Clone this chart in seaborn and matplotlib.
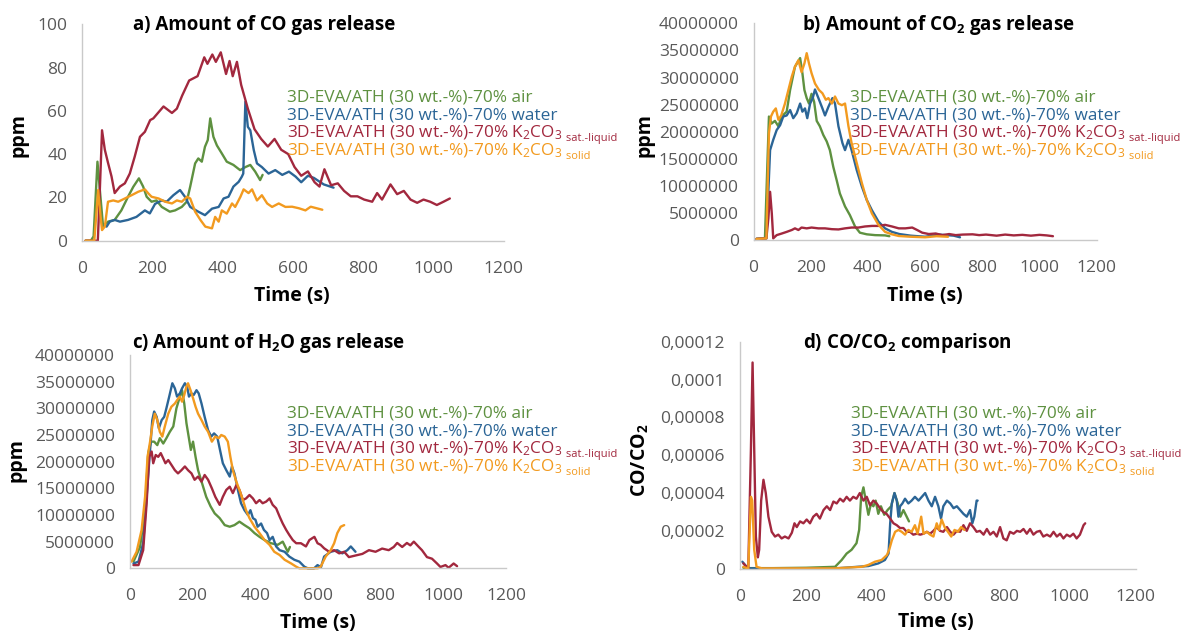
import matplotlib
matplotlib.use("Agg")
import matplotlib.pyplot as plt
import numpy as np
import pandas as pd
import seaborn as sns

# ---------------------------------------------------------------- data
series_names = ["air", "water", "liquid", "solid"]
legend_main = [
    "3D-EVA/ATH (30 wt.-%)-70% air",
    "3D-EVA/ATH (30 wt.-%)-70% water",
    "3D-EVA/ATH (30 wt.-%)-70% K$_2$CO$_3$",
    "3D-EVA/ATH (30 wt.-%)-70% K$_2$CO$_3$",
]
legend_sub = ["", "", " sat.-liquid", " solid"]
series_colors = ["#5E9140", "#2B6596", "#A2283E", "#F29A1F"]

x_ticks = [0, 200, 400, 600, 800, 1000, 1200]
x_tick_labels = ["0", "200", "400", "600", "800", "1000", "1200"]

# a) CO (ppm)
co_air_t = [10, 25, 33, 44, 50, 60, 74, 93, 112, 131, 146, 162, 174, 184, 198, 212, 227, 250, 265, 284,
            298, 308, 322, 331, 341, 350, 358, 365, 374, 384, 398, 412, 431, 450, 465, 479, 493, 507, 514]
co_air = [0, 0, 2, 36.5, 25, 6.5, 8.8, 9.6, 14, 20.3, 24.9, 28.8, 25, 20.3, 18, 18.6, 15.6, 13.4, 14, 15.6,
          18, 25, 35.7, 38, 36.5, 43.4, 46.5, 56.5, 48, 44, 40.3, 36.5, 35, 32.6, 34, 35, 31.9, 28, 30.4]
co_water_t = [65, 70, 79, 93, 108, 131, 155, 179, 193, 208, 227, 241, 260, 279, 293, 308, 331, 350, 370, 389,
              403, 417, 431, 446, 455, 459, 465, 472, 479, 489, 498, 512, 531, 550, 570, 589, 608, 624, 643, 660,
              688, 716]
co_water = [7, 6.5, 8.8, 9.6, 8.8, 9.6, 11, 14, 12.6, 17, 18.6, 18, 21, 23.4, 20.3, 15.6, 13.4, 11.8, 14.8, 15.6,
            19.5, 20.3, 25, 27.2, 29.6, 31, 64.2, 52.6, 51, 41.8, 35.7, 34, 31, 32.6, 30.4, 31.9, 29.6, 27, 30, 29,
            26, 24.5]
co_liquid_t = [10, 30, 45, 50, 57, 65, 74, 84, 93, 108, 122, 136, 150, 165, 179, 194, 203, 232, 256, 270,
               285, 305, 329, 348, 357, 371, 381, 395, 410, 420, 429, 441, 453, 472, 491, 510, 529, 548, 567, 587,
               605, 624, 643, 662, 676, 690, 709, 728, 746, 765, 784, 803, 826, 840, 854, 878, 897, 916, 935, 954,
               972, 991, 1010, 1029, 1047]
co_liquid = [0, 0, 0, 20, 51, 42, 36, 29.7, 22, 25, 26.5, 31, 38.8, 48, 50.3, 55.7, 56.5, 62, 59, 61,
             67, 74, 76, 84.7, 81.7, 86, 82.6, 87, 77, 83, 76, 82.6, 72, 61, 51.5, 47, 43.5, 47, 42, 40,
             34, 30, 32, 27, 25, 33, 25.6, 26.5, 23, 20.5, 20.5, 19, 18, 22, 19, 26, 21.5, 23, 19, 17.5,
             19, 18, 16.5, 18, 19.5]
co_solid_t = [10, 35, 46, 53, 57, 65, 74, 89, 103, 122, 141, 160, 179, 189, 198, 218, 237, 256, 270, 284,
              299, 308, 322, 337, 351, 370, 379, 389, 398, 412, 427, 436, 451, 460, 474, 484, 498, 512, 527, 541,
              560, 579, 598, 617, 636, 651, 684]
co_solid = [0, 0, 23.4, 11, 4.9, 6.5, 18, 18.6, 18, 19.5, 21, 22.6, 23.7, 21.8, 20.3, 19.5, 18, 17.2, 18.6, 18,
            20.3, 19.5, 13.4, 9.6, 6.5, 5.7, 11, 8.8, 14, 12.5, 17.2, 15.6, 20.3, 23.7, 22, 23.7, 18.6, 21, 17.2, 15.6,
            17.2, 15.6, 15.7, 15, 14, 15.7, 14.3]

# b) CO2 (ppm, in millions)
co2_air_t = [10, 40, 54, 63, 75, 87, 98, 116, 128, 145, 163, 171, 178, 186, 194, 203, 212, 221, 232, 244,
             256, 267, 279, 291, 302, 320, 337, 355, 372, 396, 425, 460, 475]
co2_air = [0.2, 0.3, 22.8, 21.5, 22, 21, 22.8, 23.7, 27.7, 32, 33.6, 30.8, 27.7, 26.2, 25.2, 27, 25.5, 22, 21, 19.4,
           18.2, 16.6, 13.5, 11, 8.6, 6.2, 4.6, 2.5, 1.35, 1.05, 0.9, 0.85, 0.7]
co2_water_t = [10, 45, 58, 69, 81, 93, 104, 116, 128, 139, 151, 163, 171, 180, 188, 198, 207, 215, 227, 241,
               250, 262, 276, 285, 297, 311, 320, 332, 343, 361, 379, 396, 414, 437, 460, 484, 510, 550, 600, 650,
               700, 722]
co2_water = [0.2, 0.3, 16.6, 18.5, 20.3, 21.2, 22.8, 23, 24, 22.5, 23.4, 25.2, 23.7, 24.3, 22.5, 25.2, 26.2, 27.8, 26.2, 24.3,
             23, 24.6, 26.2, 25.2, 21, 17.9, 16.6, 18.5, 16.6, 12.9, 9.85, 7.4, 5.5, 3.4, 2.15, 1.5, 1.1, 0.8, 0.6, 1.0,
             0.8, 0.5]
co2_liquid_t = [10, 45, 52, 58, 64, 69, 81, 99, 116, 134, 145, 157, 168, 186, 203, 227, 250, 274, 297, 320,
                343, 367, 390, 414, 437, 460, 484, 508, 531, 555, 572, 590, 613, 637, 660, 684, 707, 731, 766, 789,
                813, 850, 880, 910, 940, 970, 1000, 1025, 1047]
co2_liquid = [0.2, 0.3, 4, 8.9, 4.9, 0.3, 0.9, 1.2, 1.5, 1.85, 2.15, 1.85, 2.3, 2.15, 2.3, 2.15, 2.15, 2.0, 1.95, 2.15,
              2.3, 2.3, 2.5, 2.6, 2.6, 2.8, 2.5, 2.15, 2.15, 2.3, 1.85, 1.35, 1.1, 1.2, 0.9, 1.1, 0.9, 1.0, 1.05, 0.9,
              1.0, 0.8, 1.0, 0.85, 0.95, 0.8, 0.95, 0.85, 0.7]
co2_solid_t = [10, 45, 54, 61, 69, 78, 87, 97, 110, 122, 134, 145, 157, 168, 178, 186, 194, 203, 215, 229,
               241, 253, 262, 274, 285, 297, 309, 320, 332, 343, 361, 379, 396, 414, 437, 460, 484, 508, 550, 600,
               640, 680]
co2_solid = [0.2, 0.3, 19.7, 22.8, 23.7, 24.3, 22.2, 23, 25.2, 27.7, 30.2, 32, 33.2, 31, 32.6, 34.5, 32.6, 30.8, 28.9, 27.7,
             27.1, 25.9, 26.2, 25.2, 26.5, 25.2, 24.9, 25.2, 21, 17.9, 14.2, 10.5, 7.4, 4.9, 2.8, 1.5, 1.05, 0.74, 0.6, 0.5,
             0.7, 0.6]

# c) H2O (ppm, in millions)
h2o_air_t = [12, 33, 49, 59, 68, 78, 88, 96, 107, 117, 128, 139, 149, 160, 167, 174, 181, 188, 195, 202,
             210, 218, 231, 244, 258, 271, 287, 303, 319, 334, 350, 366, 382, 398, 414, 430, 451, 472, 488, 504,
             511]
h2o_air = [1.25, 4, 10.9, 21.6, 23.75, 23.75, 23.1, 24.4, 23.4, 24.4, 25.6, 26.6, 30, 32.2, 33.4, 30.9, 27.2, 24.7, 22.2, 23.75,
           20.9, 18.4, 15.9, 13.4, 11.6, 10.3, 9.4, 8.1, 7.8, 8.1, 8.75, 8.1, 7.5, 6.6, 5.9, 5.3, 4.7, 4.4, 5, 3.1,
           4]
h2o_water_t = [12, 28, 43, 54, 65, 72, 78, 86, 93, 102, 110, 117, 126, 136, 144, 151, 160, 167, 176, 183,
               189, 197, 204, 213, 220, 229, 239, 250, 260, 269, 279, 289, 297, 308, 319, 326, 334, 345, 355, 366,
               377, 385, 393, 401, 408, 419, 428, 438, 446, 456, 467, 478, 494, 509, 525, 541, 557, 568, 588, 599,
               610, 620, 641, 662, 678, 694, 705, 720]
h2o_water = [0.9, 1.25, 4.7, 13.4, 22.2, 27.8, 29.4, 28.4, 26.25, 27.8, 28.4, 30, 32.2, 34.7, 33.75, 32.2, 32.8, 33.75, 34.7, 34.1,
             32.2, 32.8, 32.5, 33.4, 32.8, 30.9, 28.4, 25.9, 24.7, 25.3, 24.7, 21.9, 19.7, 18.4, 17.2, 19.1, 17.8, 14.7, 12.2, 10.9,
             10, 10.9, 9.4, 9.1, 7.8, 8.4, 7.2, 6.6, 5.3, 5.9, 4.1, 3.4, 3.1, 2.2, 1.6, 1.25, 0.3, 0, 0, 0.6,
             0.2, 2.2, 3.1, 3.4, 2.8, 3.4, 4.1, 3.1]
h2o_liquid_t = [12, 28, 43, 54, 62, 70, 75, 83, 91, 99, 107, 114, 123, 133, 144, 154, 165, 176, 186, 197,
                207, 218, 229, 239, 250, 262, 273, 287, 297, 308, 319, 329, 340, 350, 361, 371, 382, 393, 403, 414,
                424, 435, 446, 456, 467, 478, 488, 499, 509, 520, 531, 546, 562, 573, 589, 599, 609, 620, 636, 652,
                668, 684, 699, 720, 742, 763, 784, 805, 826, 842, 853, 869, 884, 895, 906, 922, 932, 948, 964, 980,
                991, 1007, 1017, 1033, 1044]
h2o_liquid = [0.6, 0.6, 3.4, 12.2, 20.9, 21.9, 19.7, 21.25, 20.9, 21.6, 20.6, 19.7, 20.3, 19.4, 18.4, 17.8, 18.4, 19.1, 18.4, 17.8,
              16.6, 17.2, 16.25, 17.5, 16.6, 15, 13.4, 11.9, 13.4, 14.7, 15.3, 14.1, 15.6, 14.7, 12.8, 13.1, 13.75, 13.1, 12.2, 12.8,
              12.2, 12.5, 13.1, 11.9, 11.25, 9.7, 8.4, 7.2, 6.25, 5.3, 4.7, 4.7, 4.1, 5.3, 5.9, 4.7, 4.4, 3.75, 3.1, 3.4,
              2.8, 3.1, 2.1, 2.4, 2.7, 3.4, 3.1, 3.7, 3.4, 4.0, 4.75, 4.0, 4.75, 4.3, 5, 4.0, 3.4, 2.1, 1.8, 0.9,
              0.25, 0.6, 0.1, 0.9, 0.4]
h2o_solid_t = [6, 22, 38, 49, 57, 65, 72, 80, 88, 96, 104, 112, 123, 133, 144, 152, 160, 167, 174, 181,
               186, 194, 202, 210, 218, 229, 239, 250, 262, 273, 284, 292, 303, 313, 321, 329, 340, 350, 361, 371,
               382, 398, 414, 430, 446, 461, 478, 494, 515, 531, 541, 600, 609, 625, 641, 652, 662, 673, 684]
h2o_solid = [1.25, 3.1, 7.2, 13.4, 20.9, 23.75, 26.6, 29, 27.8, 25.6, 24.7, 26.6, 29, 30.3, 30.9, 31.6, 32.2, 31.25, 32.5, 34.1,
             34.7, 33.4, 31.9, 30.3, 29, 27.8, 26.6, 25.6, 23.75, 24.7, 24.4, 25, 24.7, 23.75, 20.9, 18.4, 16.25, 14.7, 12.8, 10.9,
             9.4, 7.8, 6.6, 5.3, 4.4, 3.1, 2.5, 1.6, 0.9, 0.3, 0, 0, 0.3, 2.2, 3.4, 4.7, 6.6, 7.8, 8.1]

# d) CO/CO2 ratio (in units of 1e-5)
ratio_air_t = [11, 25, 100, 200, 289, 309, 324, 339, 354, 362, 368, 375, 382, 390, 398, 405, 412, 420, 428, 438,
               448, 459, 469, 479, 487, 496, 506, 513]
ratio_air = [0.05, 0.03, 0.03, 0.05, 0.1, 0.46, 0.8, 1.0, 1.35, 2.05, 3.8, 4.3, 3.6, 2.85, 3.45, 3.3, 3.6, 2.9, 3.3, 2.85,
             3.1, 3.3, 4.0, 3.45, 2.75, 3.1, 2.75, 2.5]
ratio_water_t = [8, 21, 31, 100, 200, 300, 390, 420, 440, 451, 456, 461, 469, 476, 481, 486, 493, 501, 511, 521,
                 531, 542, 552, 562, 572, 582, 592, 602, 610, 617, 628, 638, 648, 658, 668, 678, 688, 698, 705, 711,
                 718, 721]
ratio_water = [0.37, 0.1, 0.02, 0.02, 0.02, 0.03, 0.14, 0.28, 0.46, 0.8, 2.4, 3.45, 4.0, 3.6, 2.75, 3.3, 3.45, 3.7, 3.45, 3.6,
               3.8, 3.6, 3.8, 4.0, 3.6, 3.3, 3.8, 3.3, 2.65, 3.3, 3.6, 3.45, 3.2, 3.3, 3.1, 2.9, 2.75, 3.1, 2.4, 2.75,
               3.6, 3.6]
ratio_liquid_t = [11, 26, 34, 39, 44, 49, 55, 59, 65, 72, 79, 87, 97, 107, 117, 127, 137, 148, 158, 166,
                  173, 183, 193, 203, 213, 223, 233, 243, 254, 264, 274, 284, 294, 304, 314, 324, 334, 344, 354, 364,
                  375, 385, 395, 405, 415, 425, 435, 445, 456, 466, 476, 486, 496, 506, 516, 526, 537, 547, 557, 567,
                  577, 587, 597, 607, 617, 628, 638, 648, 658, 668, 678, 688, 698, 708, 718, 728, 739, 749, 759, 769,
                  779, 789, 799, 809, 819, 830, 840, 850, 860, 870, 880, 890, 900, 910, 920, 931, 941, 951, 961, 971,
                  981, 991, 1001, 1011, 1021, 1031, 1042, 1047]
ratio_liquid = [0.28, 0, 6.3, 10.9, 6.3, 1.7, 0.6, 1.0, 3.6, 4.7, 4.0, 2.75, 1.95, 1.7, 1.8, 1.6, 1.7, 1.6, 1.9, 2.4,
                2.2, 2.5, 2.4, 2.6, 2.4, 2.75, 2.9, 2.65, 3.1, 3.3, 3.1, 3.55, 3.45, 3.7, 3.55, 3.8, 3.6, 3.8, 3.7, 4.0,
                3.6, 3.8, 3.35, 3.6, 3.45, 3.2, 3.0, 2.9, 2.65, 2.4, 2.3, 2.15, 2.15, 1.95, 1.95, 1.8, 1.85, 1.8, 1.85, 1.95,
                1.85, 2.0, 2.2, 2.0, 1.95, 2.2, 1.95, 1.8, 2.0, 1.95, 2.3, 2.0, 2.4, 2.2, 1.95, 2.0, 1.8, 2.1, 1.8, 1.95,
                1.7, 2.2, 1.6, 1.5, 1.95, 1.85, 2.0, 1.95, 2.1, 1.85, 2.1, 1.8, 1.95, 2.0, 1.7, 1.8, 1.7, 1.95, 1.7, 1.85,
                1.6, 1.8, 1.7, 1.85, 1.6, 1.8, 2.3, 2.4]
ratio_solid_t = [11, 26, 34, 38, 44, 51, 67, 150, 289, 370, 390, 410, 430, 446, 453, 461, 471, 481, 491, 501,
                 511, 521, 531, 539, 550, 557, 567, 577, 587, 597, 604, 612, 621, 631, 641, 651, 661, 671, 681]
ratio_solid = [0.1, 0, 3.8, 3.6, 1.0, 0.1, 0.02, 0.02, 0.02, 0.1, 0.2, 0.37, 0.46, 0.72, 1.0, 1.5, 1.95, 2.05, 1.95, 1.8,
               2.05, 1.95, 2.3, 1.85, 2.75, 1.85, 1.95, 1.8, 1.7, 2.4, 2.05, 2.6, 2.2, 1.95, 1.7, 2.05, 1.95, 2.2, 2.05]

# ---------------------------------------------------------------- style
sns.set_theme(style="white")
plt.rcParams["font.family"] = ["Open Sans", "DejaVu Sans"]
plt.rcParams["mathtext.fontset"] = "custom"
plt.rcParams["mathtext.rm"] = "Open Sans"
plt.rcParams["mathtext.it"] = "Open Sans:italic"
plt.rcParams["mathtext.bf"] = "Open Sans:bold"

W, H = 1186, 634
fig = plt.figure(figsize=(W / 100, H / 100), dpi=100)
fig.patch.set_facecolor("white")

AXIS_GREY = "#C9C9C9"
LABEL_GREY = "#595959"


def add_axes_px(left, top, right, bottom):
    return fig.add_axes([left / W, 1 - bottom / H, (right - left) / W, (bottom - top) / H])


def frame(df, scale):
    parts = []
    for name, (t, v) in zip(series_names, df):
        parts.append(pd.DataFrame({"time": t, "value": np.asarray(v, float) * scale, "series": name}))
    return pd.concat(parts, ignore_index=True)


def draw_panel(ax, data, ymax, yticks, yticklabels):
    palette = dict(zip(series_names, series_colors))
    sns.lineplot(data=data, x="time", y="value", hue="series", hue_order=series_names,
                 palette=palette, estimator=None, sort=False, linewidth=1.7,
                 legend=False, ax=ax)
    for ln in ax.get_lines():
        ln.set_clip_on(False)
        ln.set_solid_joinstyle("round")
    ax.set_xlim(0, 1200)
    ax.set_ylim(0, ymax)
    ax.set_xticks(x_ticks)
    ax.set_xticklabels(x_tick_labels)
    ax.set_yticks(yticks)
    ax.set_yticklabels(yticklabels)
    ax.set_xlabel("")
    ax.set_ylabel("")
    for s in ["top", "right"]:
        ax.spines[s].set_visible(False)
    for s in ["left", "bottom"]:
        ax.spines[s].set_color(AXIS_GREY)
        ax.spines[s].set_linewidth(1.0)
    ax.tick_params(axis="both", direction="inout", length=9, width=1.0, color=AXIS_GREY,
                   labelsize=12.5, labelcolor=LABEL_GREY)
    ax.tick_params(axis="x", pad=10)
    ax.tick_params(axis="y", pad=6)
    ax.set_facecolor("none")


def ftext(x, y, s, **kw):
    return fig.text(x / W, 1 - y / H, s, **kw)


def legend_block(x, y0, dy):
    fig.canvas.draw()
    renderer = fig.canvas.get_renderer()
    for i, (main, sub, col) in enumerate(zip(legend_main, legend_sub, series_colors)):
        y = y0 + i * dy
        t = ftext(x, y, main, color=col, fontsize=12.4, va="baseline", ha="left")
        if sub:
            bb = t.get_window_extent(renderer)
            fig.text(bb.x1 / W, 1 - (y + 3.5) / H, sub, color=col, fontsize=8,
                     va="baseline", ha="left")


# ---------------------------------------------------------------- panels
ax_a = add_axes_px(82, 24.2, 503.6, 240.7)
draw_panel(ax_a, frame([(co_air_t, co_air), (co_water_t, co_water),
                        (co_liquid_t, co_liquid), (co_solid_t, co_solid)], 1.0),
           100, [0, 20, 40, 60, 80, 100], ["0", "20", "40", "60", "80", "100"])

big_ticks = [0, 5e6, 1e7, 1.5e7, 2e7, 2.5e7, 3e7, 3.5e7, 4e7]
big_labels = ["0", "5000000", "10000000", "15000000", "20000000", "25000000",
              "30000000", "35000000", "40000000"]

ax_b = add_axes_px(753.5, 23.4, 1096.7, 240.0)
draw_panel(ax_b, frame([(co2_air_t, co2_air), (co2_water_t, co2_water),
                        (co2_liquid_t, co2_liquid), (co2_solid_t, co2_solid)], 1e6),
           4e7, big_ticks, big_labels)

ax_c = add_axes_px(129.7, 355.0, 506.0, 568.3)
draw_panel(ax_c, frame([(h2o_air_t, h2o_air), (h2o_water_t, h2o_water),
                        (h2o_liquid_t, h2o_liquid), (h2o_solid_t, h2o_solid)], 1e6),
           4e7, big_ticks, big_labels)

ax_d = add_axes_px(739.7, 341.7, 1135.7, 568.7)
draw_panel(ax_d, frame([(ratio_air_t, ratio_air), (ratio_water_t, ratio_water),
                        (ratio_liquid_t, ratio_liquid), (ratio_solid_t, ratio_solid)], 1e-5),
           1.2e-4, [0, 2e-5, 4e-5, 6e-5, 8e-5, 1e-4, 1.2e-4],
           ["0", "0,00002", "0,00004", "0,00006", "0,00008", "0,0001", "0,00012"])

# ---------------------------------------------------------------- titles & labels
title_kw = dict(fontsize=13.5, fontweight="bold", color="black", ha="center", va="center")
ftext(264, 25, "a) Amount of CO gas release", **title_kw)
ftext(938, 25, r"b) Amount of CO$_\mathbf{2}$ gas release", **title_kw)
ftext(268.7, 342.7, r"c) Amount of H$_\mathbf{2}$O gas release", **title_kw)
ftext(907.5, 342.7, r"d) CO/CO$_\mathbf{2}$ comparison", **title_kw)

lab_kw = dict(fontsize=14, fontweight="bold", color="black", ha="center", va="center")
ftext(292, 296, "Time (s)", **lab_kw)
ftext(925, 296, "Time (s)", **lab_kw)
ftext(317.6, 623, "Time (s)", **lab_kw)
ftext(936, 622, "Time (s)", **lab_kw)

ftext(18.4, 135, "ppm", rotation=90, **lab_kw)
ftext(644, 135, "ppm", rotation=90, **lab_kw)
ftext(17, 460, "ppm", rotation=90, **lab_kw)
ftext(639, 460, r"CO/CO$_\mathbf{2}$", rotation=90, **lab_kw)

# ---------------------------------------------------------------- legends (coloured text)
legend_block(287, 101.5, 18.1)
legend_block(850.4, 101.5, 18.1)
legend_block(287, 417.8, 17.9)
legend_block(851, 417.0, 18.1)

fig.savefig("out.png", dpi=100)
